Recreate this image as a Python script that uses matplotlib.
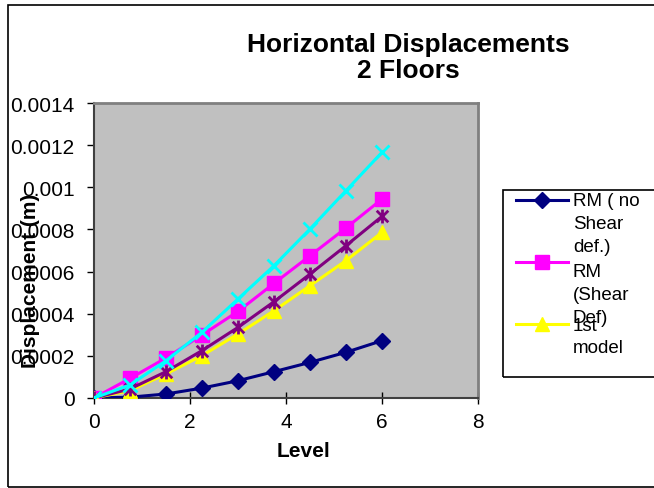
import matplotlib
matplotlib.use("Agg")
import matplotlib.pyplot as plt
from matplotlib.path import Path
from matplotlib.patches import Rectangle
from matplotlib.lines import Line2D

plt.rcParams['font.family'] = ['Liberation Sans', 'DejaVu Sans']

# data
level = [0, 0.75, 1.5, 2.25, 3, 3.75, 4.5, 5.25, 6]
rm_no_shear = [0, 0.000004, 0.000019, 0.000047, 0.000082, 0.000125, 0.000169, 0.000217, 0.000272]
rm_shear = [0, 0.000093, 0.00019, 0.000299, 0.000411, 0.000544, 0.000675, 0.000807, 0.000944]
first_model = [0, 0.000035, 0.000114, 0.000201, 0.000304, 0.000414, 0.000533, 0.000652, 0.000786]
series4 = [0, 0.000043, 0.000125, 0.000225, 0.000335, 0.000457, 0.000588, 0.000723, 0.000862]
series5 = [0, 0.000062, 0.000177, 0.000312, 0.00047, 0.000628, 0.000802, 0.000984, 0.001166]

yticks = [0, 0.0002, 0.0004, 0.0006, 0.0008, 0.001, 0.0012, 0.0014]
ytick_labels = ["0", "0.0002", "0.0004", "0.0006", "0.0008", "0.001", "0.0012", "0.0014"]
xticks = [0, 2, 4, 6, 8]

W, H = 654, 489

def fx(px):
    return px / W

def fy(py):
    return 1 - py / H

# Excel style star marker (x with a vertical bar)
star = Path([(-1, -1), (1, 1), (-1, 1), (1, -1), (0, -1.2), (0, 1.2)],
            [Path.MOVETO, Path.LINETO, Path.MOVETO, Path.LINETO, Path.MOVETO, Path.LINETO])

fig = plt.figure(figsize=(W / 100, H / 100), dpi=100)
ax = fig.add_axes([fx(94), fy(399), fx(478) - fx(94), fy(104) - fy(399)])
ax.set_facecolor('#C0C0C0')

ax.plot(level, rm_no_shear, color='#000080', lw=2.2, marker='D', ms=8.5, zorder=3)
ax.plot(level, rm_shear, color='#FF00FF', lw=2.2, marker='s', ms=10, zorder=3)
ax.plot(level, first_model, color='#FFFF00', lw=2.2, marker='^', ms=10, zorder=3)
ax.plot(level, series4, color='#800080', lw=2.2, marker=star, ms=10, mew=2, mfc='none', zorder=3)
ax.plot(level, series5, color='#00FFFF', lw=2.2, marker='x', ms=10, mew=2, zorder=3)

ax.set_xlim(0, 8)
ax.set_ylim(0, 0.0014)
ax.set_xticks(xticks)
ax.set_xticklabels([str(t) for t in xticks])
ax.set_yticks(yticks)
ax.set_yticklabels(ytick_labels)
ax.tick_params(axis='x', direction='inout', length=8, width=1, labelsize=15, pad=6)
ax.tick_params(axis='y', direction='out', length=5, width=1, labelsize=15, pad=9)
for s in ['top', 'right']:
    ax.spines[s].set_color('#808080')
    ax.spines[s].set_linewidth(2)
for s in ['left', 'bottom']:
    ax.spines[s].set_color('#404040')
    ax.spines[s].set_linewidth(1.5)

fig.text(fx(408), fy(58), "Horizontal Displacements\n2 Floors", ha='center', va='center',
         fontsize=19, fontweight='bold', linespacing=1.15)
fig.text(fx(304), fy(452), "Level", ha='center', va='center', fontsize=15, fontweight='bold')
fig.text(fx(31), fy(281), "Displacement (m)", ha='center', va='center', rotation=90,
         fontsize=15, fontweight='bold')

# outer chart border (runs off the right edge)
fig.add_artist(Rectangle((fx(8), fy(488)), fx(700) - fx(8), fy(6) - fy(488),
                         transform=fig.transFigure, fill=False, ec='black', lw=1.2))

# legend box (clipped on the right like the original)
fig.add_artist(Rectangle((fx(503), fy(378)), fx(700) - fx(503), fy(191) - fy(378),
                         transform=fig.transFigure, fill=False, ec='black', lw=1.2))
legend_items = [
    ('#000080', 'D', 8.5, 201, ["RM ( no", "Shear", "def.)"], [206, 229, 252]),
    ('#FF00FF', 's', 10, 263, ["RM", "(Shear", "Def)"], [277, 300, 323]),
    ('#FFFF00', '^', 10, 325, ["1st", "model"], [331, 353]),
]
for color, mk, ms, yl, lines, bases in legend_items:
    fig.add_artist(Line2D([fx(516), fx(568)], [fy(yl), fy(yl)], transform=fig.transFigure,
                          color=color, lw=2.2))
    fig.add_artist(Line2D([fx(542)], [fy(yl)], transform=fig.transFigure, color=color,
                          marker=mk, ms=ms, lw=0))
    for txt, b in zip(lines, bases):
        fig.text(fx(573), fy(b), txt, ha='left', va='baseline', fontsize=13.5)

fig.savefig("out.png", dpi=100)
